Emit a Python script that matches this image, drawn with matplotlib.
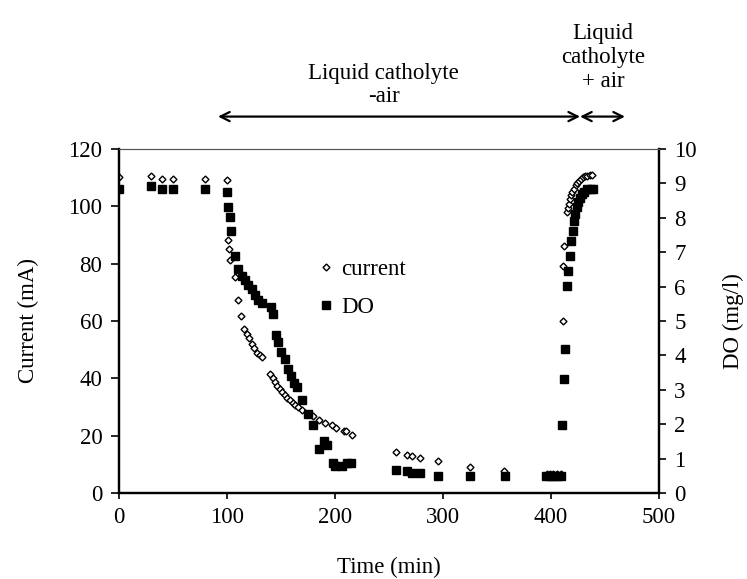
import matplotlib.pyplot as plt
from matplotlib.lines import Line2D

plt.rcParams['font.family'] = ['Liberation Serif', 'DejaVu Serif']
plt.rcParams['font.size'] = 16.5

# current (mA) vs time (min)
t_cur = [0, 30, 40, 50, 80, 100, 101, 102, 103, 107.4, 110.2, 113.2, 116, 118.5,
         120.4, 123.1, 125.3, 128, 130.6, 132.7, 140.1, 142.3, 144.2, 146.6, 149.1,
         151.2, 153.4, 155.8, 158.3, 160.8, 163.2, 165.5, 169.4, 179.4, 185.2,
         190.7, 197.5, 200.9, 208, 210.5, 215.5, 256.2, 266.4, 271.3, 279, 295.1,
         325.3, 356.8, 396, 399, 402, 406, 409, 410.8, 411.4, 411.6, 414.5, 415.7,
         416.7, 417.6, 418.2, 419.4, 421, 422.9, 424.4, 426, 427.8, 429.4, 431.5,
         433.6, 436.1, 438]
current = [110.2, 110.6, 109.4, 109.4, 109.4, 109.2, 88.2, 85.2, 81.3, 75.2, 67.3,
           61.7, 57.3, 55.4, 54, 51.9, 50.5, 49, 48, 47.4, 41.5, 40, 38.7, 37.4, 36.2,
           35.1, 34.2, 33.2, 32.4, 31.5, 30.6, 29.9, 28.8, 26.8, 25.5, 24.4, 23.7,
           22.6, 21.7, 21.5, 20.3, 14.4, 13.4, 12.8, 12.2, 11.0, 9.1, 7.8, 6.6, 6.6,
           6.6, 6.6, 6.6, 60, 79.2, 86.2, 97.9, 99.3, 100.8, 102.4, 103.9, 105, 106.1,
           107.3, 108, 108.8, 109.4, 110.1, 110.6, 110.7, 110.9, 110.8]

# dissolved oxygen (mg/l) vs time (min)
t_do = [0, 30, 40, 50, 80, 100, 100.9, 102.5, 103.7, 107.1, 110.2, 113.6, 116.7,
        119.7, 122.9, 125.9, 129, 132.7, 140.5, 142.3, 145.4, 147.2, 150, 153.4,
        156.2, 159, 162, 164.8, 169.4, 174.7, 179.4, 185.2, 189.8, 192.3, 198.4,
        199.7, 206.8, 210.8, 215.1, 256.2, 266.4, 271, 279, 295, 325, 357, 395.4,
        399, 402, 405.6, 409, 410.6, 412, 413.2, 415.1, 415.7, 417.6, 418.5, 420.1,
        421.3, 422.2, 423.8, 425.3, 426.9, 428.4, 430.6, 433.1, 436.8, 438.6]
do = [8.84, 8.93, 8.83, 8.83, 8.83, 8.74, 8.32, 8.03, 7.62, 6.90, 6.51, 6.32, 6.19,
      6.05, 5.92, 5.76, 5.61, 5.51, 5.40, 5.20, 4.60, 4.39, 4.10, 3.90, 3.60, 3.39,
      3.19, 3.09, 2.69, 2.30, 1.99, 1.29, 1.50, 1.39, 0.86, 0.78, 0.78, 0.86, 0.88,
      0.67, 0.65, 0.57, 0.57, 0.50, 0.50, 0.50, 0.50, 0.50, 0.50, 0.50, 0.50, 1.98,
      3.31, 4.19, 6.02, 6.46, 6.90, 7.33, 7.63, 7.92, 8.10, 8.32, 8.47, 8.57, 8.68,
      8.76, 8.83, 8.85, 8.85]

fig = plt.figure(figsize=(7.47, 5.79), dpi=100)
ax = fig.add_axes([0.1593, 0.1485, 0.7229, 0.5942])
ax2 = ax.twinx()

ax.plot(t_cur, current, linestyle='none', marker='D', markersize=3.5,
        markerfacecolor='white', markeredgecolor='black', markeredgewidth=1.0)
ax2.plot(t_do, do, linestyle='none', marker='s', markersize=5.2,
         color='black')

ax.set_xlim(0, 500)
ax.set_ylim(0, 120)
ax2.set_ylim(0, 10)
ax.set_xticks(range(0, 501, 100))
ax.set_yticks(range(0, 121, 20))
ax2.set_yticks(range(0, 11, 1))

for a in (ax, ax2):
    a.spines['left'].set_linewidth(1.6)
    a.spines['bottom'].set_linewidth(1.6)
    a.spines['right'].set_linewidth(1.6)
    a.spines['top'].set_linewidth(0.8)
    a.spines['top'].set_color('#555555')
ax.tick_params(axis='y', direction='out', length=6, width=1.2, pad=6)
ax.tick_params(axis='x', direction='out', length=4, width=1.2, pad=6)
ax2.tick_params(axis='y', direction='out', length=5, width=1.2, pad=6)

ax.set_xlabel('Time (min)', labelpad=21)
ax.set_ylabel('Current (mA)', labelpad=21)
ax2.set_ylabel('DO (mg/l)', labelpad=19)

handles = [Line2D([], [], linestyle='none', marker='D', markersize=3.5,
                  markerfacecolor='white', markeredgecolor='black'),
           Line2D([], [], linestyle='none', marker='s', markersize=5.2,
                  color='black')]
ax.legend(handles, ['current', 'DO'], loc='center left',
          bbox_to_anchor=(0.34, 0.595), frameon=False, handlelength=0.6,
          handletextpad=0.4, labelspacing=0.75, borderpad=0.2)

# phase arrows above the plot
arrow_y = 131.3
ax.annotate('', xy=(91.7, arrow_y), xytext=(426.9, arrow_y), xycoords='data',
            arrowprops=dict(arrowstyle='<->', lw=1.6, color='black',
                            shrinkA=0, shrinkB=0), annotation_clip=False)
ax.annotate('', xy=(426.9, arrow_y), xytext=(468.5, arrow_y), xycoords='data',
            arrowprops=dict(arrowstyle='<->', lw=1.6, color='black',
                            shrinkA=0, shrinkB=0), annotation_clip=False)
ax.text(245, 142.3, 'Liquid catholyte\n-air', ha='center', va='center',
        linespacing=1.15, clip_on=False)
ax.text(448, 152, 'Liquid\ncatholyte\n+ air', ha='center', va='center',
        linespacing=1.2, clip_on=False)

fig.savefig('out.png', dpi=100)
